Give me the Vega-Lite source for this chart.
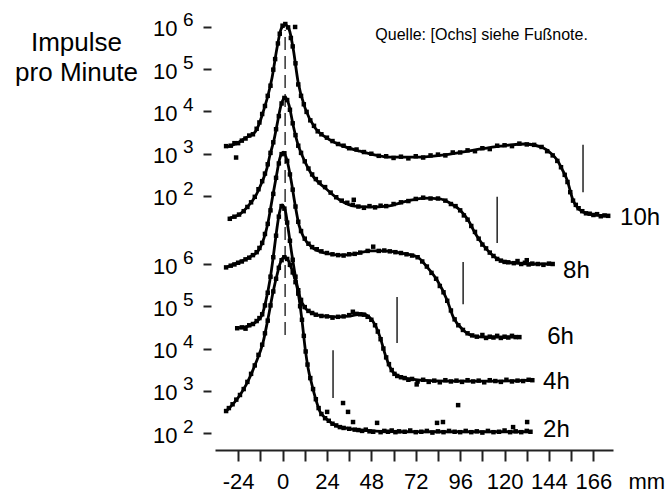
{
"$schema":"https://vega.github.io/schema/vega-lite/v6.json",
"width":398,"height":430,
"autosize":{"type":"none"},
"padding":{"left":215,"top":20,"right":55,"bottom":43},
"config":{"font":"Liberation Sans","view":{"stroke":null},"background":"white"},
"resolve":{"scale":{"y":"independent"}},
"datasets":{
"fit":[
{"s":"10h","x":-30.0,"y":8.77},{"s":"10h","x":-25,"y":8.85},{"s":"10h","x":-20.2,"y":8.98},{"s":"10h","x":-14.9,"y":9.12},{"s":"10h","x":-12.5,"y":9.33},{"s":"10h","x":-10.5,"y":9.60},{"s":"10h","x":-7.8,"y":10.00},{"s":"10h","x":-5.7,"y":10.40},{"s":"10h","x":-3.0,"y":11.11},{"s":"10h","x":-0.8,"y":11.56},{"s":"10h","x":1.4,"y":11.66},{"s":"10h","x":3.5,"y":11.56},{"s":"10h","x":5.7,"y":11.11},{"s":"10h","x":8.4,"y":10.31},{"s":"10h","x":12.2,"y":9.69},{"s":"10h","x":17.6,"y":9.22},{"s":"10h","x":23.0,"y":9.01},{"s":"10h","x":31.1,"y":8.82},{"s":"10h","x":41.9,"y":8.67},{"s":"10h","x":58.1,"y":8.53},{"s":"10h","x":74.3,"y":8.53},{"s":"10h","x":90.5,"y":8.60},{"s":"10h","x":104.1,"y":8.70},{"s":"10h","x":117.6,"y":8.79},{"s":"10h","x":131.1,"y":8.84},{"s":"10h","x":140.8,"y":8.75},{"s":"10h","x":145,"y":8.62},{"s":"10h","x":148.4,"y":8.46},{"s":"10h","x":151,"y":8.25},{"s":"10h","x":153.8,"y":7.99},{"s":"10h","x":157.0,"y":7.51},{"s":"10h","x":159.5,"y":7.33},{"s":"10h","x":162.4,"y":7.23},{"s":"10h","x":168,"y":7.17},{"s":"10h","x":175.4,"y":7.14},
{"s":"8h","x":-28.4,"y":7.09},{"s":"8h","x":-23.0,"y":7.18},{"s":"8h","x":-18.6,"y":7.37},{"s":"8h","x":-14.3,"y":7.63},{"s":"8h","x":-11.1,"y":7.94},{"s":"8h","x":-8.4,"y":8.27},{"s":"8h","x":-6.8,"y":8.58},{"s":"8h","x":-4.6,"y":8.94},{"s":"8h","x":-3.0,"y":9.29},{"s":"8h","x":-0.8,"y":9.76},{"s":"8h","x":1.4,"y":9.95},{"s":"8h","x":3.5,"y":9.76},{"s":"8h","x":5.7,"y":9.29},{"s":"8h","x":8.4,"y":8.82},{"s":"8h","x":10.5,"y":8.58},{"s":"8h","x":13.2,"y":8.32},{"s":"8h","x":15.9,"y":8.11},{"s":"8h","x":19.2,"y":7.94},{"s":"8h","x":23.0,"y":7.80},{"s":"8h","x":31.1,"y":7.51},{"s":"8h","x":39.2,"y":7.37},{"s":"8h","x":47.3,"y":7.35},{"s":"8h","x":56.5,"y":7.37},{"s":"8h","x":67.3,"y":7.49},{"s":"8h","x":77.0,"y":7.56},{"s":"8h","x":85.1,"y":7.54},{"s":"8h","x":90.5,"y":7.44},{"s":"8h","x":95.9,"y":7.28},{"s":"8h","x":100.3,"y":7.04},{"s":"8h","x":104.1,"y":6.73},{"s":"8h","x":108.4,"y":6.45},{"s":"8h","x":112.2,"y":6.26},{"s":"8h","x":117.6,"y":6.09},{"s":"8h","x":125.7,"y":6.02},{"s":"8h","x":136.5,"y":6.00},{"s":"8h","x":145.7,"y":6.00},
{"s":"6h","x":-30.0,"y":5.93},{"s":"6h","x":-23.0,"y":6.05},{"s":"6h","x":-17.6,"y":6.17},{"s":"6h","x":-13.2,"y":6.31},{"s":"6h","x":-10.0,"y":6.62},{"s":"6h","x":-7.8,"y":6.99},{"s":"6h","x":-5.7,"y":7.51},{"s":"6h","x":-3.5,"y":8.04},{"s":"6h","x":-1.4,"y":8.51},{"s":"6h","x":0.3,"y":8.65},{"s":"6h","x":2.4,"y":8.46},{"s":"6h","x":4.6,"y":7.99},{"s":"6h","x":6.8,"y":7.40},{"s":"6h","x":8.9,"y":6.92},{"s":"6h","x":11.6,"y":6.62},{"s":"6h","x":15.9,"y":6.40},{"s":"6h","x":23.0,"y":6.26},{"s":"6h","x":31.1,"y":6.21},{"s":"6h","x":39.2,"y":6.24},{"s":"6h","x":47.3,"y":6.31},{"s":"6h","x":55.4,"y":6.31},{"s":"6h","x":63.5,"y":6.26},{"s":"6h","x":72.7,"y":6.17},{"s":"6h","x":78.1,"y":5.93},{"s":"6h","x":83.5,"y":5.62},{"s":"6h","x":88.9,"y":5.15},{"s":"6h","x":92.2,"y":4.75},{"s":"6h","x":97.6,"y":4.44},{"s":"6h","x":103.0,"y":4.30},{"s":"6h","x":110,"y":4.27},{"s":"6h","x":128.4,"y":4.27},
{"s":"4h","x":-24.1,"y":4.49},{"s":"4h","x":-18.6,"y":4.53},{"s":"4h","x":-14.3,"y":4.63},{"s":"4h","x":-11.1,"y":4.79},{"s":"4h","x":-8.9,"y":5.15},{"s":"4h","x":-6.8,"y":5.62},{"s":"4h","x":-5.1,"y":6.14},{"s":"4h","x":-3.5,"y":6.69},{"s":"4h","x":-1.9,"y":7.16},{"s":"4h","x":-0.3,"y":7.40},{"s":"4h","x":1.4,"y":7.28},{"s":"4h","x":3.0,"y":6.85},{"s":"4h","x":5.1,"y":6.21},{"s":"4h","x":7.3,"y":5.62},{"s":"4h","x":9.5,"y":5.20},{"s":"4h","x":12.2,"y":4.96},{"s":"4h","x":15.9,"y":4.84},{"s":"4h","x":21.4,"y":4.77},{"s":"4h","x":28.4,"y":4.75},{"s":"4h","x":36.5,"y":4.77},{"s":"4h","x":43.5,"y":4.82},{"s":"4h","x":47,"y":4.74},{"s":"4h","x":50.0,"y":4.56},{"s":"4h","x":52.7,"y":4.27},{"s":"4h","x":55.9,"y":3.80},{"s":"4h","x":59.7,"y":3.44},{"s":"4h","x":63.5,"y":3.33},{"s":"4h","x":68.9,"y":3.28},{"s":"4h","x":74.3,"y":3.25},{"s":"4h","x":90.5,"y":3.23},{"s":"4h","x":117.6,"y":3.23},{"s":"4h","x":135.4,"y":3.25},
{"s":"2h","x":-30.0,"y":2.54},{"s":"2h","x":-24.1,"y":2.83},{"s":"2h","x":-19.7,"y":3.14},{"s":"2h","x":-14.9,"y":3.61},{"s":"2h","x":-10.5,"y":4.15},{"s":"2h","x":-7.8,"y":4.72},{"s":"2h","x":-5.1,"y":5.34},{"s":"2h","x":-3.0,"y":5.74},{"s":"2h","x":-1.4,"y":6.00},{"s":"2h","x":0.8,"y":6.17},{"s":"2h","x":3.0,"y":6.09},{"s":"2h","x":5.1,"y":5.86},{"s":"2h","x":8.4,"y":5.34},{"s":"2h","x":10.5,"y":4.67},{"s":"2h","x":12.2,"y":4.01},{"s":"2h","x":13.8,"y":3.54},{"s":"2h","x":15.9,"y":3.14},{"s":"2h","x":18.1,"y":2.78},{"s":"2h","x":20.3,"y":2.50},{"s":"2h","x":23.0,"y":2.36},{"s":"2h","x":27.3,"y":2.21},{"s":"2h","x":33.8,"y":2.12},{"s":"2h","x":41.9,"y":2.07},{"s":"2h","x":63.5,"y":2.03},{"s":"2h","x":133.8,"y":2.03}
],
"pts":[
{"s":"10h","x":-30.5,"y":8.79},{"s":"10h","x":-28,"y":8.80},{"s":"10h","x":-26,"y":8.86},{"s":"10h","x":-25.1,"y":8.52},{"s":"10h","x":-24,"y":8.86},{"s":"10h","x":-22,"y":8.92},{"s":"10h","x":-20,"y":8.97},{"s":"10h","x":-18,"y":9.04},{"s":"10h","x":-16,"y":9.07},{"s":"10h","x":-14,"y":9.20},{"s":"10h","x":-12.5,"y":9.35},{"s":"10h","x":-11,"y":9.55},{"s":"10h","x":-9.5,"y":9.74},{"s":"10h","x":-8,"y":9.98},{"s":"10h","x":-6.5,"y":10.22},{"s":"10h","x":-5,"y":10.60},{"s":"10h","x":-4,"y":10.85},{"s":"10h","x":-2.5,"y":11.22},{"s":"10h","x":-1.5,"y":11.45},{"s":"10h","x":0,"y":11.64},{"s":"10h","x":1.5,"y":11.68},{"s":"10h","x":3,"y":11.60},{"s":"10h","x":4.5,"y":11.35},{"s":"10h","x":5.5,"y":11.15},{"s":"10h","x":6.8,"y":11.61},{"s":"10h","x":7,"y":10.75},{"s":"10h","x":8.5,"y":10.25},{"s":"10h","x":10,"y":9.98},{"s":"10h","x":11.5,"y":9.78},{"s":"10h","x":13,"y":9.60},{"s":"10h","x":15,"y":9.40},{"s":"10h","x":17,"y":9.27},{"s":"10h","x":19,"y":9.14},{"s":"10h","x":21,"y":9.07},{"s":"10h","x":24,"y":8.99},{"s":"10h","x":27,"y":8.91},{"s":"10h","x":30,"y":8.84},{"s":"10h","x":33,"y":8.80},{"s":"10h","x":36,"y":8.74},{"s":"10h","x":40,"y":8.71},{"s":"10h","x":44,"y":8.65},{"s":"10h","x":48,"y":8.61},{"s":"10h","x":52,"y":8.56},{"s":"10h","x":56,"y":8.55},{"s":"10h","x":60,"y":8.51},{"s":"10h","x":64,"y":8.54},{"s":"10h","x":68,"y":8.50},{"s":"10h","x":72,"y":8.55},{"s":"10h","x":76,"y":8.52},{"s":"10h","x":80,"y":8.57},{"s":"10h","x":84,"y":8.59},{"s":"10h","x":88,"y":8.57},{"s":"10h","x":92,"y":8.64},{"s":"10h","x":96,"y":8.64},{"s":"10h","x":100,"y":8.69},{"s":"10h","x":104,"y":8.67},{"s":"10h","x":108,"y":8.74},{"s":"10h","x":112,"y":8.72},{"s":"10h","x":116,"y":8.80},{"s":"10h","x":120,"y":8.81},{"s":"10h","x":124,"y":8.79},{"s":"10h","x":128,"y":8.85},{"s":"10h","x":132,"y":8.83},{"s":"10h","x":136,"y":8.82},{"s":"10h","x":140,"y":8.77},{"s":"10h","x":143,"y":8.67},{"s":"10h","x":146,"y":8.57},{"s":"10h","x":148.5,"y":8.44},{"s":"10h","x":150.5,"y":8.29},{"s":"10h","x":152.5,"y":8.11},{"s":"10h","x":154,"y":7.94},{"s":"10h","x":155.5,"y":7.70},{"s":"10h","x":157,"y":7.50},{"s":"10h","x":158.5,"y":7.40},{"s":"10h","x":160,"y":7.32},{"s":"10h","x":162,"y":7.25},{"s":"10h","x":164,"y":7.20},{"s":"10h","x":166,"y":7.19},{"s":"10h","x":168,"y":7.16},{"s":"10h","x":170,"y":7.18},{"s":"10h","x":172,"y":7.13},{"s":"10h","x":174,"y":7.15},{"s":"10h","x":176,"y":7.14},
{"s":"8h","x":-28.5,"y":7.07},{"s":"8h","x":-26,"y":7.12},{"s":"8h","x":-23.5,"y":7.17},{"s":"8h","x":-21,"y":7.25},{"s":"8h","x":-19,"y":7.35},{"s":"8h","x":-17,"y":7.46},{"s":"8h","x":-15,"y":7.59},{"s":"8h","x":-13,"y":7.77},{"s":"8h","x":-11,"y":7.96},{"s":"8h","x":-9.5,"y":8.14},{"s":"8h","x":-8,"y":8.36},{"s":"8h","x":-6.5,"y":8.63},{"s":"8h","x":-5,"y":8.88},{"s":"8h","x":-3.5,"y":9.19},{"s":"8h","x":-2,"y":9.50},{"s":"8h","x":-0.5,"y":9.80},{"s":"8h","x":1,"y":9.93},{"s":"8h","x":2.5,"y":9.88},{"s":"8h","x":4,"y":9.65},{"s":"8h","x":5.5,"y":9.33},{"s":"8h","x":7,"y":9.05},{"s":"8h","x":8.5,"y":8.80},{"s":"8h","x":10,"y":8.63},{"s":"8h","x":12,"y":8.43},{"s":"8h","x":14,"y":8.26},{"s":"8h","x":16,"y":8.12},{"s":"8h","x":18,"y":8.01},{"s":"8h","x":20,"y":7.93},{"s":"8h","x":23,"y":7.82},{"s":"8h","x":26,"y":7.69},{"s":"8h","x":29,"y":7.58},{"s":"8h","x":32,"y":7.50},{"s":"8h","x":35,"y":7.45},{"s":"8h","x":38,"y":7.40},{"s":"8h","x":38.5,"y":7.52},{"s":"8h","x":41,"y":7.36},{"s":"8h","x":44,"y":7.33},{"s":"8h","x":47,"y":7.37},{"s":"8h","x":50,"y":7.34},{"s":"8h","x":53,"y":7.38},{"s":"8h","x":56,"y":7.37},{"s":"8h","x":60,"y":7.42},{"s":"8h","x":64,"y":7.46},{"s":"8h","x":68,"y":7.49},{"s":"8h","x":72,"y":7.54},{"s":"8h","x":76,"y":7.57},{"s":"8h","x":80,"y":7.55},{"s":"8h","x":84,"y":7.55},{"s":"8h","x":88,"y":7.50},{"s":"8h","x":91,"y":7.42},{"s":"8h","x":93.5,"y":7.37},{"s":"8h","x":96,"y":7.27},{"s":"8h","x":98,"y":7.15},{"s":"8h","x":100,"y":7.05},{"s":"8h","x":102,"y":6.90},{"s":"8h","x":104,"y":6.76},{"s":"8h","x":106,"y":6.60},{"s":"8h","x":108,"y":6.46},{"s":"8h","x":110,"y":6.37},{"s":"8h","x":112,"y":6.27},{"s":"8h","x":114,"y":6.19},{"s":"8h","x":116,"y":6.12},{"s":"8h","x":118,"y":6.08},{"s":"8h","x":120,"y":6.05},{"s":"8h","x":122,"y":6.04},{"s":"8h","x":125,"y":6.02},{"s":"8h","x":127,"y":6.07},{"s":"8h","x":129,"y":6.00},{"s":"8h","x":131,"y":6.03},{"s":"8h","x":132,"y":6.09},{"s":"8h","x":133,"y":5.99},{"s":"8h","x":135,"y":6.01},{"s":"8h","x":138,"y":6.00},{"s":"8h","x":141,"y":5.98},{"s":"8h","x":144,"y":6.01},{"s":"8h","x":146,"y":6.00},
{"s":"6h","x":-30.5,"y":5.92},{"s":"6h","x":-28,"y":5.96},{"s":"6h","x":-26,"y":5.99},{"s":"6h","x":-24,"y":6.03},{"s":"6h","x":-22,"y":6.06},{"s":"6h","x":-20,"y":6.11},{"s":"6h","x":-18,"y":6.15},{"s":"6h","x":-16,"y":6.21},{"s":"6h","x":-14,"y":6.28},{"s":"6h","x":-12.5,"y":6.38},{"s":"6h","x":-11,"y":6.50},{"s":"6h","x":-9.5,"y":6.71},{"s":"6h","x":-8,"y":6.95},{"s":"6h","x":-6.5,"y":7.27},{"s":"6h","x":-5,"y":7.66},{"s":"6h","x":-3.5,"y":8.04},{"s":"6h","x":-2,"y":8.38},{"s":"6h","x":-0.5,"y":8.60},{"s":"6h","x":1,"y":8.62},{"s":"6h","x":2.5,"y":8.44},{"s":"6h","x":4,"y":8.12},{"s":"6h","x":5.5,"y":7.76},{"s":"6h","x":7,"y":7.36},{"s":"6h","x":8.5,"y":7.00},{"s":"6h","x":10,"y":6.78},{"s":"6h","x":12,"y":6.60},{"s":"6h","x":14,"y":6.48},{"s":"6h","x":16,"y":6.40},{"s":"6h","x":18.5,"y":6.35},{"s":"6h","x":21,"y":6.30},{"s":"6h","x":24,"y":6.26},{"s":"6h","x":27,"y":6.23},{"s":"6h","x":30,"y":6.21},{"s":"6h","x":33,"y":6.20},{"s":"6h","x":36,"y":6.23},{"s":"6h","x":39,"y":6.24},{"s":"6h","x":42,"y":6.27},{"s":"6h","x":46,"y":6.31},{"s":"6h","x":49,"y":6.41},{"s":"6h","x":52,"y":6.31},{"s":"6h","x":55,"y":6.32},{"s":"6h","x":58,"y":6.30},{"s":"6h","x":61,"y":6.28},{"s":"6h","x":64,"y":6.26},{"s":"6h","x":67,"y":6.23},{"s":"6h","x":70,"y":6.20},{"s":"6h","x":73,"y":6.16},{"s":"6h","x":75.5,"y":6.06},{"s":"6h","x":78,"y":5.94},{"s":"6h","x":80.5,"y":5.79},{"s":"6h","x":83,"y":5.65},{"s":"6h","x":85,"y":5.48},{"s":"6h","x":87,"y":5.33},{"s":"6h","x":89,"y":5.13},{"s":"6h","x":91,"y":4.90},{"s":"6h","x":93,"y":4.69},{"s":"6h","x":95,"y":4.55},{"s":"6h","x":97.5,"y":4.44},{"s":"6h","x":100,"y":4.36},{"s":"6h","x":102.5,"y":4.31},{"s":"6h","x":105,"y":4.28},{"s":"6h","x":108,"y":4.32},{"s":"6h","x":110,"y":4.25},{"s":"6h","x":112,"y":4.28},{"s":"6h","x":114,"y":4.26},{"s":"6h","x":116,"y":4.30},{"s":"6h","x":118,"y":4.25},{"s":"6h","x":120,"y":4.28},{"s":"6h","x":122,"y":4.26},{"s":"6h","x":124,"y":4.30},{"s":"6h","x":126,"y":4.27},{"s":"6h","x":128,"y":4.27},
{"s":"4h","x":-24.5,"y":4.48},{"s":"4h","x":-22,"y":4.50},{"s":"4h","x":-20,"y":4.47},{"s":"4h","x":-18,"y":4.55},{"s":"4h","x":-16,"y":4.58},{"s":"4h","x":-14,"y":4.65},{"s":"4h","x":-12.5,"y":4.72},{"s":"4h","x":-11,"y":4.81},{"s":"4h","x":-9.5,"y":5.02},{"s":"4h","x":-8,"y":5.32},{"s":"4h","x":-6.5,"y":5.70},{"s":"4h","x":-5,"y":6.16},{"s":"4h","x":-3.5,"y":6.67},{"s":"4h","x":-2,"y":7.12},{"s":"4h","x":-0.5,"y":7.37},{"s":"4h","x":1,"y":7.31},{"s":"4h","x":2.5,"y":6.98},{"s":"4h","x":4,"y":6.55},{"s":"4h","x":5.5,"y":6.10},{"s":"4h","x":7,"y":5.70},{"s":"4h","x":8.5,"y":5.38},{"s":"4h","x":10,"y":5.15},{"s":"4h","x":12,"y":4.98},{"s":"4h","x":14,"y":4.89},{"s":"4h","x":16,"y":4.84},{"s":"4h","x":18,"y":4.80},{"s":"4h","x":21,"y":4.77},{"s":"4h","x":24,"y":4.76},{"s":"4h","x":27,"y":4.73},{"s":"4h","x":30,"y":4.75},{"s":"4h","x":33,"y":4.76},{"s":"4h","x":36,"y":4.79},{"s":"4h","x":38,"y":4.87},{"s":"4h","x":40,"y":4.82},{"s":"4h","x":42,"y":4.81},{"s":"4h","x":44,"y":4.80},{"s":"4h","x":46,"y":4.75},{"s":"4h","x":48,"y":4.68},{"s":"4h","x":50,"y":4.55},{"s":"4h","x":51.5,"y":4.40},{"s":"4h","x":53,"y":4.22},{"s":"4h","x":54.5,"y":4.00},{"s":"4h","x":56,"y":3.79},{"s":"4h","x":57.5,"y":3.63},{"s":"4h","x":59,"y":3.49},{"s":"4h","x":60.5,"y":3.40},{"s":"4h","x":62,"y":3.35},{"s":"4h","x":64,"y":3.32},{"s":"4h","x":66,"y":3.30},{"s":"4h","x":68,"y":3.26},{"s":"4h","x":70,"y":3.28},{"s":"4h","x":72.5,"y":3.15},{"s":"4h","x":73,"y":3.22},{"s":"4h","x":76,"y":3.26},{"s":"4h","x":79,"y":3.21},{"s":"4h","x":82,"y":3.24},{"s":"4h","x":85,"y":3.20},{"s":"4h","x":88,"y":3.25},{"s":"4h","x":91,"y":3.22},{"s":"4h","x":94,"y":3.24},{"s":"4h","x":97,"y":3.21},{"s":"4h","x":100,"y":3.25},{"s":"4h","x":103,"y":3.22},{"s":"4h","x":106,"y":3.24},{"s":"4h","x":109,"y":3.20},{"s":"4h","x":112,"y":3.25},{"s":"4h","x":115,"y":3.23},{"s":"4h","x":118,"y":3.21},{"s":"4h","x":121,"y":3.26},{"s":"4h","x":124,"y":3.22},{"s":"4h","x":127,"y":3.24},{"s":"4h","x":130,"y":3.23},{"s":"4h","x":133,"y":3.26},{"s":"4h","x":135,"y":3.25},
{"s":"2h","x":-30.5,"y":2.52},{"s":"2h","x":-29,"y":2.59},{"s":"2h","x":-27,"y":2.68},{"s":"2h","x":-25,"y":2.79},{"s":"2h","x":-23,"y":2.90},{"s":"2h","x":-21,"y":3.04},{"s":"2h","x":-19,"y":3.21},{"s":"2h","x":-17,"y":3.40},{"s":"2h","x":-15,"y":3.60},{"s":"2h","x":-13,"y":3.85},{"s":"2h","x":-11,"y":4.09},{"s":"2h","x":-9.5,"y":4.36},{"s":"2h","x":-8,"y":4.66},{"s":"2h","x":-6.5,"y":5.02},{"s":"2h","x":-5,"y":5.35},{"s":"2h","x":-3.5,"y":5.65},{"s":"2h","x":-2,"y":5.91},{"s":"2h","x":-0.5,"y":6.09},{"s":"2h","x":1,"y":6.16},{"s":"2h","x":2.5,"y":6.12},{"s":"2h","x":4,"y":5.98},{"s":"2h","x":5.5,"y":5.80},{"s":"2h","x":7,"y":5.57},{"s":"2h","x":8.5,"y":5.30},{"s":"2h","x":9.5,"y":5.00},{"s":"2h","x":10.5,"y":4.68},{"s":"2h","x":11.5,"y":4.30},{"s":"2h","x":12.5,"y":3.93},{"s":"2h","x":13.5,"y":3.62},{"s":"2h","x":15,"y":3.30},{"s":"2h","x":16.5,"y":3.04},{"s":"2h","x":18,"y":2.80},{"s":"2h","x":19.5,"y":2.59},{"s":"2h","x":21,"y":2.45},{"s":"2h","x":23,"y":2.35},{"s":"2h","x":24.1,"y":2.50},{"s":"2h","x":25,"y":2.29},{"s":"2h","x":27,"y":2.22},{"s":"2h","x":29,"y":2.18},{"s":"2h","x":31,"y":2.14},{"s":"2h","x":32.7,"y":2.71},{"s":"2h","x":33,"y":2.12},{"s":"2h","x":35.4,"y":2.50},{"s":"2h","x":36,"y":2.10},{"s":"2h","x":38.1,"y":2.26},{"s":"2h","x":39,"y":2.08},{"s":"2h","x":41,"y":2.07},{"s":"2h","x":43,"y":2.05},{"s":"2h","x":45,"y":2.08},{"s":"2h","x":47,"y":2.04},{"s":"2h","x":49,"y":2.03},{"s":"2h","x":51.1,"y":2.24},{"s":"2h","x":53,"y":2.02},{"s":"2h","x":55,"y":2.05},{"s":"2h","x":57,"y":2.03},{"s":"2h","x":59,"y":2.06},{"s":"2h","x":61,"y":2.02},{"s":"2h","x":63,"y":2.04},{"s":"2h","x":66,"y":2.03},{"s":"2h","x":69,"y":2.06},{"s":"2h","x":72,"y":2.02},{"s":"2h","x":75,"y":2.03},{"s":"2h","x":78,"y":2.05},{"s":"2h","x":81,"y":2.01},{"s":"2h","x":83.5,"y":2.24},{"s":"2h","x":84,"y":2.04},{"s":"2h","x":86.7,"y":2.26},{"s":"2h","x":87,"y":2.02},{"s":"2h","x":90,"y":2.05},{"s":"2h","x":93,"y":2.03},{"s":"2h","x":94.9,"y":2.66},{"s":"2h","x":96,"y":2.02},{"s":"2h","x":99,"y":2.05},{"s":"2h","x":102,"y":2.02},{"s":"2h","x":105,"y":2.04},{"s":"2h","x":108,"y":2.01},{"s":"2h","x":111,"y":2.05},{"s":"2h","x":114,"y":2.02},{"s":"2h","x":117,"y":2.03},{"s":"2h","x":120,"y":2.06},{"s":"2h","x":123,"y":2.02},{"s":"2h","x":124.6,"y":2.14},{"s":"2h","x":126,"y":2.04},{"s":"2h","x":129,"y":2.02},{"s":"2h","x":132,"y":2.05},{"s":"2h","x":132.2,"y":2.26},{"s":"2h","x":134,"y":2.03}
],
"marks":[
{"s":"2h","x":27.3,"y":2.83,"y2":3.96},
{"s":"4h","x":61.9,"y":4.13,"y2":5.22},
{"s":"6h","x":97.6,"y":5.05,"y2":6.05},
{"s":"8h","x":116.0,"y":6.50,"y2":7.59},
{"s":"10h","x":162.4,"y":7.70,"y2":8.82}
],
"labels":[
{"s":"10h","x":182.4,"y":7.09},
{"s":"8h","x":151.6,"y":5.83},
{"s":"6h","x":143.0,"y":4.27},
{"s":"4h","x":140.8,"y":3.21},
{"s":"2h","x":140.8,"y":2.07}
],
"notes":[
{"t":"Quelle: [Ochs] siehe Fußnote.","x":107.6,"y":11.42}
],
"axislines":[
{"y":2,"y2":6},
{"y":7.61,"y2":11.61}
]
},
"encoding":{
"x":{"field":"x","type":"quantitative","scale":{"domain":[-36.5,178.6],"nice":false,"zero":false},
"axis":{"values":[-24,-12,0,12,24,36,48,60,72,84,96,108,120,132,144,156,168],
"labelExpr":"datum.value % 24 == 0 ? (datum.value == 168 ? '166' : '' + datum.value) : ''",
"grid":false,"tickSize":11,"tickWidth":2,"tickColor":"#222","domainColor":"#222","domainWidth":2,
"labelFontSize":22,"labelColor":"#000","labelPadding":10,"labelOverlap":false,"labelFlush":false,"labelBound":false,
"title":"mm","titleFontSize":22,"titleFontWeight":"normal","titleColor":"#000","titleAlign":"left","titleBaseline":"alphabetic","titleX":413,"titleY":38}},
"y":{"field":"y","type":"quantitative","scale":{"domain":[1.598,11.775],"nice":false,"zero":false},"axis":null}
},
"layer":[
{"data":{"name":"axislines"},"mark":{"type":"rule","color":"#222","strokeWidth":2},
 "encoding":{"x":{"datum":-38.65},
  "y":{"field":"y","type":"quantitative","scale":{"domain":[1.598,11.775],"nice":false,"zero":false},
   "axis":{"orient":"left","values":[2,3,4,5,6,7.61,8.61,9.61,10.61,11.61],"labelExpr":"'10'",
    "domain":false,"grid":false,"offset":4,"tickSize":8,"tickWidth":2,"tickColor":"#222",
    "labelFontSize":22,"labelColor":"#000","labelPadding":26,"labelOffset":2,"labelOverlap":false,"labelBound":false,"labelFlush":false,"labelAlign":"right","labelBaseline":"middle",
    "title":["Impulse","pro Minute"],"titleAngle":0,"titleFontSize":26,"titleFontWeight":"normal","titleColor":"#000","titleAlign":"center","titleBaseline":"alphabetic","titleX":-135,"titleY":30,"titleLineHeight":30}},
  "y2":{"field":"y2"}}},
{"data":{"values":[{"x":1.4,"y":4.32,"y2":11.54}]},"mark":{"type":"rule","color":"#333","strokeWidth":1.5,"strokeDash":[13,6]},
 "encoding":{
  "y":{"field":"y","type":"quantitative","scale":{"domain":[1.598,11.775],"nice":false,"zero":false},
   "axis":{"orient":"left","values":[2,3,4,5,6,7.61,8.61,9.61,10.61,11.61],
    "labelExpr":"'' + round(datum.value > 7 ? datum.value - 5.61 : datum.value)",
    "domain":false,"grid":false,"offset":4,"ticks":true,"tickSize":8,"tickOpacity":0,
    "labelFontSize":19,"labelColor":"#000","labelPadding":10,"labelOffset":-7,"labelOverlap":false,"labelBound":false,"labelFlush":false,"labelAlign":"right","labelBaseline":"middle",
    "title":null}},
  "y2":{"field":"y2"}}},
{"data":{"name":"fit"},"mark":{"type":"line","color":"#000","strokeWidth":2.8,"interpolate":"monotone"},
 "encoding":{"detail":{"field":"s"}}},
{"data":{"name":"pts"},"mark":{"type":"point","shape":"square","filled":true,"size":20,"color":"#000","opacity":1},
 "encoding":{}},
{"data":{"name":"marks"},"mark":{"type":"rule","color":"#222","strokeWidth":1.5},
 "encoding":{"y2":{"field":"y2"}}},
{"data":{"name":"labels"},"mark":{"type":"text","align":"left","baseline":"middle","fontSize":24,"color":"#000"},
 "encoding":{"text":{"field":"s"}}},
{"data":{"name":"notes"},"mark":{"type":"text","align":"center","baseline":"middle","fontSize":16,"color":"#000"},
 "encoding":{"text":{"field":"t"}}}
]
}
